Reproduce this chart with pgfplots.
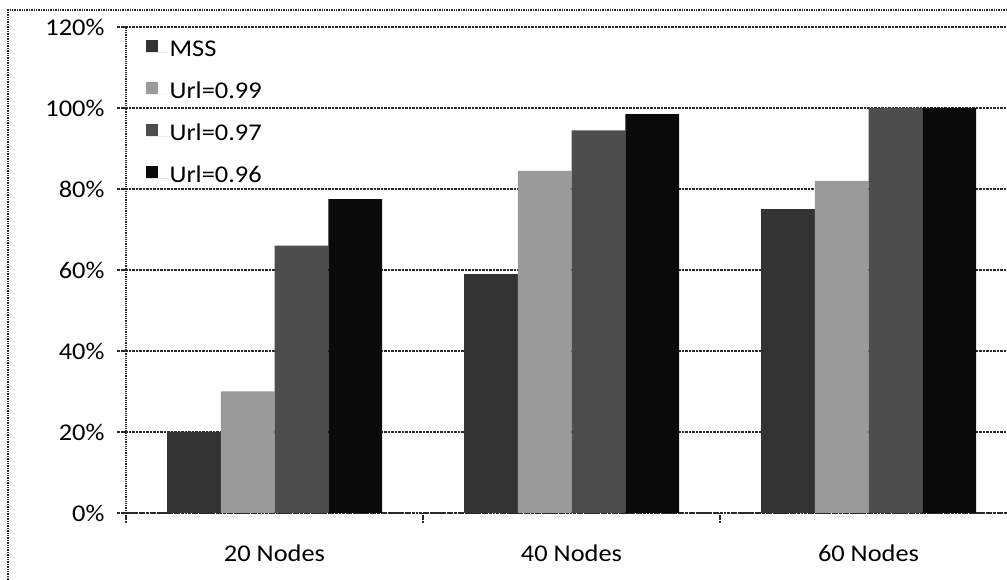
\documentclass[border=0pt]{standalone}
\usepackage{fontspec}
\setmainfont{Carlito}[FakeStretch=1.1]
\usepackage{pgfplots}
\pgfplotsset{compat=1.18}
\definecolor{cMSS}{HTML}{333333}
\definecolor{cA}{HTML}{9A9A9A}
\definecolor{cB}{HTML}{4D4D4D}
\definecolor{cC}{HTML}{0A0A0A}
\definecolor{gridc}{HTML}{2A2A2A}
\begin{document}
\begin{tikzpicture}[x=1pt,y=1pt]
\path[use as bounding box] (0,0) rectangle (1007,580);
\draw[densely dotted, line width=1.4pt, gridc] (1007,570) -- (8,570) -- (8,0);
\begin{axis}[
  at={(126pt,67pt)}, anchor=south west,
  scale only axis, width=881pt, height=486pt,
  ybar=0pt, bar width=53.75pt,
  xmin=-0.5, xmax=2.4663, ymin=0, ymax=120,
  xtick={-0.5,0.5,1.5}, xticklabels={},
  extra x ticks={0,1,2},
  extra x tick labels={20 Nodes,40 Nodes,60 Nodes},
  extra x tick style={major tick length=0pt},
  ytick={0,20,...,120},
  yticklabels={0\%,20\%,40\%,60\%,80\%,100\%,120\%},
  ymajorgrids,
  major grid style={densely dotted, gridc, line width=1.2pt},
  axis x line*=bottom, axis y line*=left,
  axis line style={densely dotted, gridc, line width=1.2pt, -},
  tick style={densely dotted, gridc, line width=1.2pt},
  tick align=outside, major tick length=9pt,
  ticklabel style={font=\fontsize{24}{28}\selectfont},
  yticklabel style={xshift=-9pt},
  xticklabel style={yshift=-28pt},
  legend style={at={(0.022,0.976)}, anchor=north west, draw=none, fill=none,
    font=\fontsize{24}{28}\selectfont, row sep=20pt, inner sep=0pt},
  legend cell align=left,
  legend image code/.code={\fill[#1,draw=none] (0pt,-3pt) rectangle (12pt,9pt);
    \path (0pt,-3pt) -- (22pt,-3pt);},
]
\addplot[fill=cMSS, draw=none] coordinates {(0,20) (1,59) (2,75)};
\addplot[fill=cA, draw=none] coordinates {(0,30) (1,84.5) (2,82)};
\addplot[fill=cB, draw=none] coordinates {(0,66) (1,94.5) (2,100)};
\addplot[fill=cC, draw=none] coordinates {(0,77.5) (1,98.5) (2,100)};
\legend{MSS,Url=0.99,Url=0.97,Url=0.96}
\end{axis}
\end{tikzpicture}
\end{document}
